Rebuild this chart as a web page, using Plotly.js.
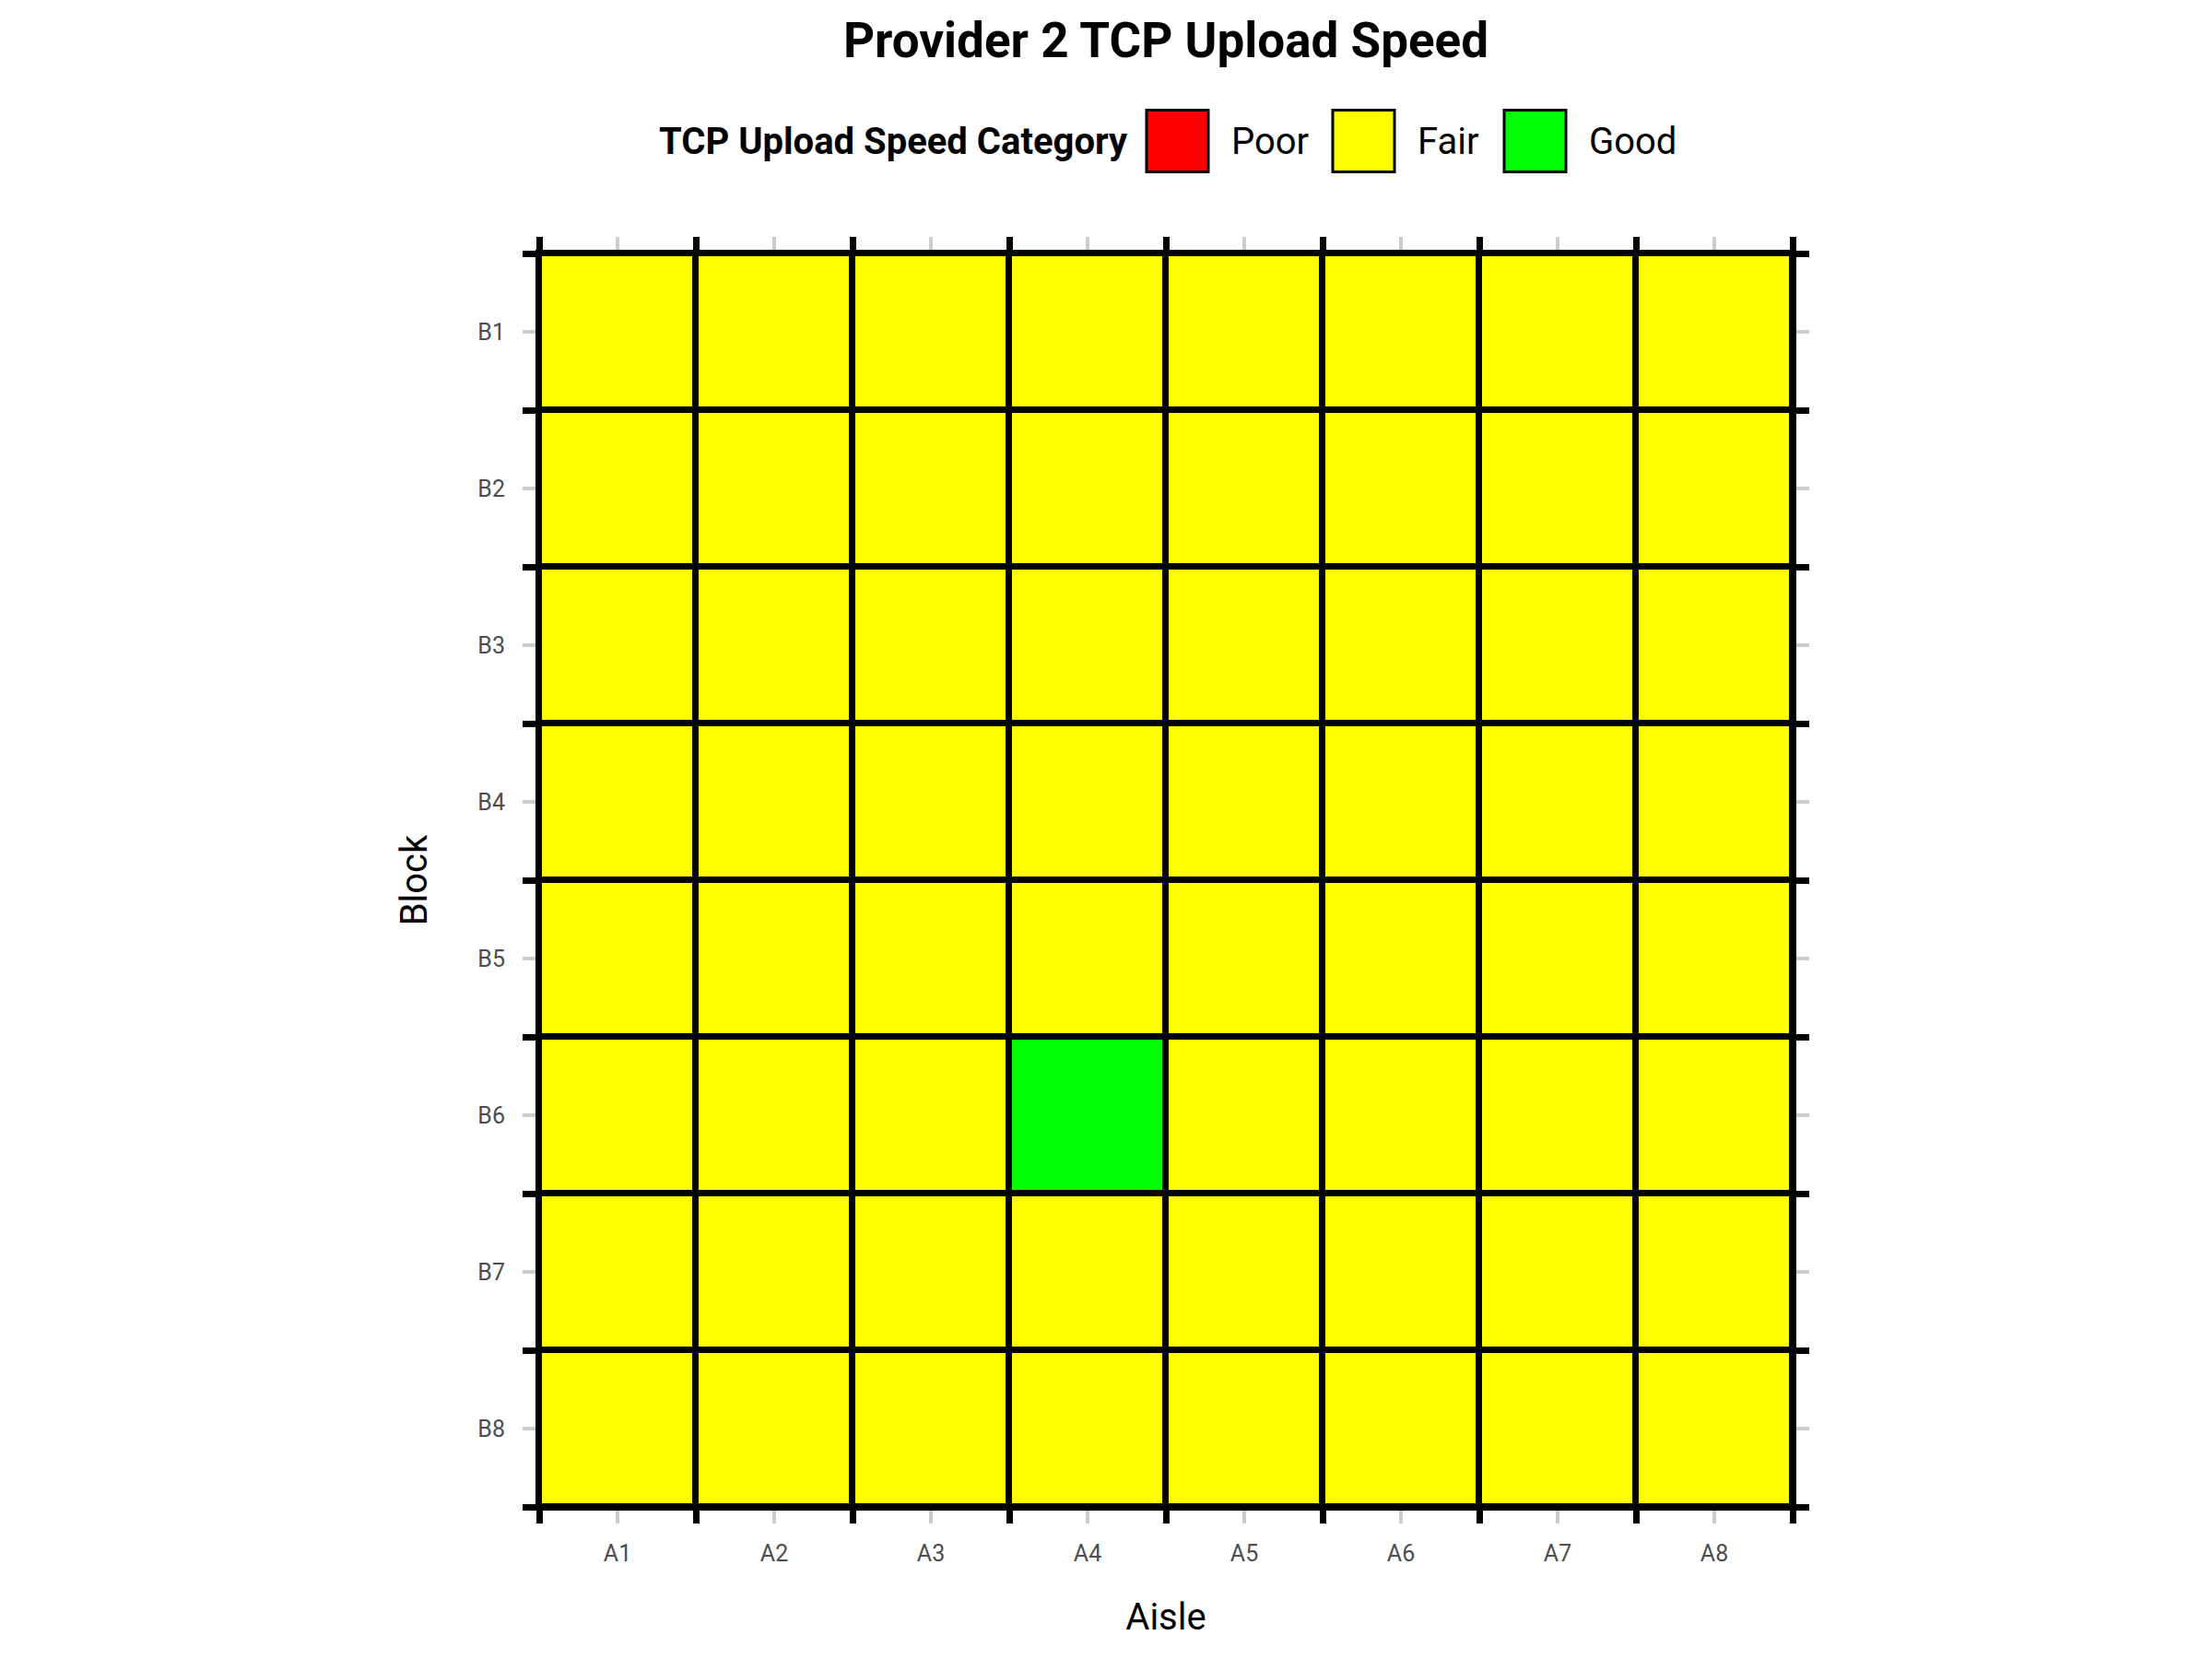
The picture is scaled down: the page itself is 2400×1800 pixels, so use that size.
<!DOCTYPE html>
<html><head><meta charset="utf-8">
<script src="https://cdn.plot.ly/plotly-3.0.1.min.js"></script>
<style>html,body{margin:0;padding:0;background:#fff}</style>
</head><body><div id="chart" style="width:2400px;height:1800px"></div>
<script>
// ---- data ----
const aisles = ['A1', 'A2', 'A3', 'A4', 'A5', 'A6', 'A7', 'A8'];
const blocks = ['B1', 'B2', 'B3', 'B4', 'B5', 'B6', 'B7', 'B8'];
const categoryNames = ['Poor', 'Fair', 'Good'];
const categoryColors = ['#FF0000', '#FFFF00', '#00FF00'];
// one row per block (B1..B8), one entry per aisle (A1..A8)
const rowB1 = ['Fair', 'Fair', 'Fair', 'Fair', 'Fair', 'Fair', 'Fair', 'Fair'];
const rowB2 = ['Fair', 'Fair', 'Fair', 'Fair', 'Fair', 'Fair', 'Fair', 'Fair'];
const rowB3 = ['Fair', 'Fair', 'Fair', 'Fair', 'Fair', 'Fair', 'Fair', 'Fair'];
const rowB4 = ['Fair', 'Fair', 'Fair', 'Fair', 'Fair', 'Fair', 'Fair', 'Fair'];
const rowB5 = ['Fair', 'Fair', 'Fair', 'Fair', 'Fair', 'Fair', 'Fair', 'Fair'];
const rowB6 = ['Fair', 'Fair', 'Fair', 'Good', 'Fair', 'Fair', 'Fair', 'Fair'];
const rowB7 = ['Fair', 'Fair', 'Fair', 'Fair', 'Fair', 'Fair', 'Fair', 'Fair'];
const rowB8 = ['Fair', 'Fair', 'Fair', 'Fair', 'Fair', 'Fair', 'Fair', 'Fair'];
const speedCategory = [rowB1, rowB2, rowB3, rowB4, rowB5, rowB6, rowB7, rowB8];

// ---- build ----
const W = 2400, H = 1800;
const M = {l: 585, r: 455, t: 275, b: 165};
const PW = W - M.l - M.r, PH = H - M.t - M.b;
const px = v => (v - M.l) / PW;
const py = v => 1 - (v - M.t) / PH;

const xIdx = aisles.map((_, i) => i);
const yIdx = blocks.map((_, i) => i);
const z = speedCategory.map(row => row.map(c => categoryNames.indexOf(c)));
const n = categoryNames.length;
const colorscale = [];
categoryColors.forEach((c, i) => {
  colorscale.push([i / n, c]);
  colorscale.push([(i + 1) / n, c]);
});

const trace = {
  type: 'heatmap', x: xIdx, y: yIdx, z: z,
  zmin: -0.5, zmax: n - 0.5, colorscale: colorscale, showscale: false,
  xgap: 7, ygap: 7, hoverinfo: 'skip'
};

const font = 'Roboto, "DejaVu Sans", sans-serif';
const tickFont = {family: font, size: 25, color: '#4d4d4d'};

function axis(vals, labels, range, title, standoff, labelStandoff) {
  return {
    range: range, tickmode: 'array', tickvals: vals, ticktext: labels,
    ticks: 'outside', ticklen: 14, tickwidth: 4, tickcolor: '#cccccc',
    showgrid: false, zeroline: false,
    showline: true, linecolor: '#000000', linewidth: 4, mirror: 'allticks',
    minor: {tick0: 0.5, dtick: 1, ticks: 'outside', ticklen: 14, tickwidth: 7,
            tickcolor: '#000000', showgrid: false},
    tickfont: tickFont, ticklabelstandoff: labelStandoff,
    title: {text: title, font: {family: font, size: 40, color: '#000000'}, standoff: standoff},
    fixedrange: true
  };
}

// legend (drawn in layout)
const legendKeyLeft = [1244, 1446, 1632];
const legendKeySize = 67;
const legendMidY = 153;
const legendLabelGap = 23;
const shapes = [];
const annotations = [];
annotations.push({
  text: '<b>TCP Upload Speed Category</b>', xref: 'paper', yref: 'paper',
  x: px(1226), y: py(legendMidY), xanchor: 'right', yanchor: 'middle',
  showarrow: false, font: {family: font, size: 40, color: '#000000'}
});
categoryNames.forEach((name, i) => {
  const x0 = legendKeyLeft[i];
  shapes.push({
    type: 'rect', xref: 'paper', yref: 'paper',
    x0: px(x0), x1: px(x0 + legendKeySize),
    y0: py(legendMidY + legendKeySize / 2), y1: py(legendMidY - legendKeySize / 2),
    fillcolor: categoryColors[i], line: {color: '#000000', width: 3}
  });
  annotations.push({
    text: name, xref: 'paper', yref: 'paper',
    x: px(x0 + legendKeySize + legendLabelGap), y: py(legendMidY),
    xanchor: 'left', yanchor: 'middle', showarrow: false,
    font: {family: font, size: 40, color: '#000000'}
  });
});

const layout = {
  width: W, height: H, margin: M,
  paper_bgcolor: '#ffffff', plot_bgcolor: '#000000',
  showlegend: false,
  title: {text: 'Provider 2 TCP Upload Speed', font: {family: font, size: 53, weight: 700, color: '#000000'},
          x: 0.5, xref: 'paper', xanchor: 'center', y: 1 - 43 / H, yref: 'container', yanchor: 'middle'},
  xaxis: axis(xIdx, aisles, [-0.5, aisles.length - 0.5], 'Aisle', 42, 11),
  yaxis: axis(yIdx, blocks, [blocks.length - 0.5, -0.5], 'Block', 43, 14),
  shapes: shapes, annotations: annotations
};

Plotly.newPlot('chart', [trace], layout, {staticPlot: true, displayModeBar: false});
</script>
</body></html>
